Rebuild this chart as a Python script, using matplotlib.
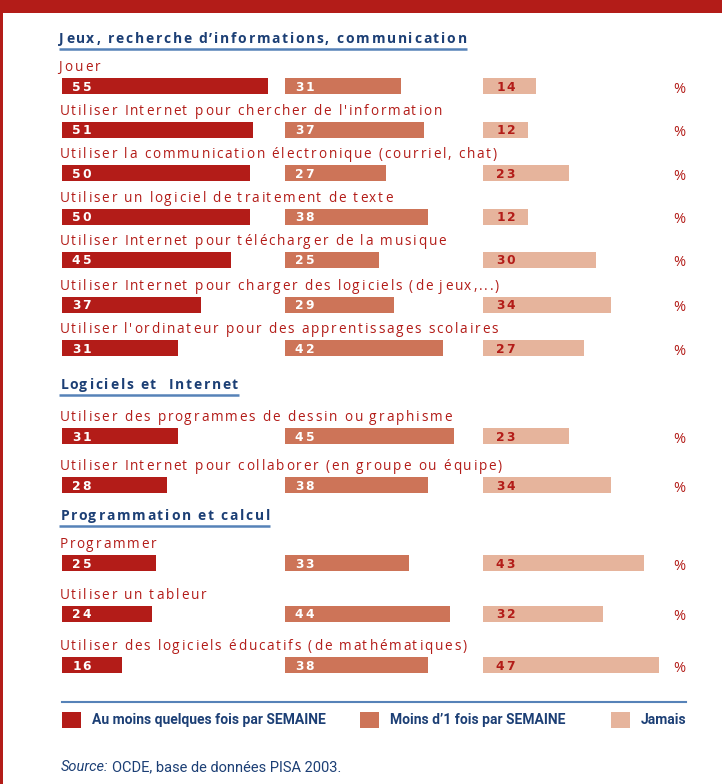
# -*- coding: utf-8 -*-
# Usage de l'ordinateur par les eleves - PISA 2003

import matplotlib
matplotlib.use("Agg")
import matplotlib.pyplot as plt
from matplotlib.font_manager import FontProperties, findfont, get_font

# Donnees
sections = ["Jeux, recherche d\u2019informations, communication",
            "Logiciels et  Internet",
            "Programmation et calcul"]
activites = ["Jouer",
             "Utiliser Internet pour chercher de l'information",
             "Utiliser la communication électronique (courriel, chat)",
             "Utiliser un logiciel de traitement de texte",
             "Utiliser Internet pour télécharger de la musique",
             "Utiliser Internet pour charger des logiciels (de jeux,...)",
             "Utiliser l'ordinateur pour des apprentissages scolaires",
             "Utiliser des programmes de dessin ou graphisme",
             "Utiliser Internet pour collaborer (en groupe ou équipe)",
             "Programmer",
             "Utiliser un tableur",
             "Utiliser des logiciels éducatifs (de mathématiques)"]
semaine = [55, 51, 50, 50, 45, 37, 31, 31, 28, 25, 24, 16]
moins = [31, 37, 27, 38, 25, 29, 42, 45, 38, 33, 44, 38]
jamais = [14, 12, 23, 12, 30, 34, 27, 23, 34, 43, 32, 47]
legende = ["Au moins quelques fois par SEMAINE", "Moins d\u20191 fois par SEMAINE", "Jamais"]

# Mise en page (pixels)
W, H = 722, 784
row_y = [86, 129.5, 173, 216.5, 260, 304.5, 348, 436, 485, 563, 614, 665]
header_y = [43, 389, 520]
col_x = [62, 285, 483]
px_par_pct = 3.75
bar_h = 16

rouge = "#b31c18"
couleurs = ["#b31c18", "#cd7458", "#e6b49c"]
marine = "#1c3f75"
bleu_ligne = "#5682b8"

fig = plt.figure(figsize=(W / 100, H / 100), dpi=100)

# barres : un axe par colonne, en pourcentage
series = [semaine, moins, jamais]
for k, (x0, vals) in enumerate(zip(col_x, series)):
    bx = fig.add_axes([x0 / W, 0, 60 * px_par_pct / W, 1])
    bx.set_xlim(0, 60)
    bx.set_ylim(H, 0)
    bx.axis("off")
    bx.barh(row_y, vals, height=bar_h, left=0, color=couleurs[k], lw=0)

# axe de texte par-dessus, en pixels
ax = fig.add_axes([0, 0, 1, 1])
ax.set_xlim(0, W)
ax.set_ylim(H, 0)
ax.axis("off")
ax.patch.set_alpha(0)
renderer = fig.canvas.get_renderer()

# bandeau et bord
ax.axhspan(0, 13, color=rouge, lw=0)
ax.axvspan(0, 3, color=rouge, lw=0)


def texte_espace(x, y, s, fp, track, color):
    # texte avec interlettrage, caractere par caractere
    font = get_font(findfont(fp))
    for ch in s:
        font.set_size(fp.get_size_in_points(), 100)
        g = font.load_char(ord(ch))
        adv = g.linearHoriAdvance / 65536
        lsb = g.horiBearingX / 64
        if ch != " ":
            ax.text(x + max(lsb, 0), y, ch, fontproperties=fp, color=color,
                    ha="left", va="baseline")
        x += adv + track
    return x - track


fp_titre = FontProperties(family="Open Sans", weight="bold", size=10)
fp_label = FontProperties(family="Open Sans", size=9.8)
fp_num = FontProperties(family="DejaVu Sans", weight="bold", size=8.8)
fp_pct = FontProperties(family="Open Sans", size=10.5)

# titres de section
for s, y in zip(sections, header_y):
    x_fin = texte_espace(59, y, s, fp_titre, 1.75, marine)
    ax.plot([59, x_fin + 1], [y + 6, y + 6], color=bleu_ligne, lw=1.8, solid_capstyle="butt")

# libelles
for lab, y in zip(activites, row_y):
    texte_espace(58.5, y - 15, lab, fp_label, 1.8, rouge)
    ax.text(679, y + 3, "%", fontproperties=fp_pct, color=rouge, ha="center", va="center")

# valeurs dans les barres
for k, (x0, vals) in enumerate(zip(col_x, series)):
    for v, y in zip(vals, row_y):
        x_txt = x0 + (12 if k == 2 else 9)
        texte_espace(x_txt, y + 4.5, str(v), fp_num, 2.0,
                     rouge if k == 2 else "white")

# legende
ax.plot([62, 686], [702, 702], color=bleu_ligne, lw=1.5)
fp_leg = FontProperties(family="Roboto", weight="bold", size=10)
leg_x = [62, 360, 611]
for k, (x, t) in enumerate(zip(leg_x, legende)):
    ax.add_patch(plt.Rectangle((x, 712), 19, 16, color=couleurs[k], lw=0))
    ax.text(x + 30, 720, t, fontproperties=fp_leg, color=marine, ha="left", va="center")

# source
fp_src_i = FontProperties(family="Roboto", style="italic", size=10.5)
fp_src = FontProperties(family="Roboto", size=10.5)
t_src = ax.text(61, 771, "Source:", fontproperties=fp_src_i, color=marine,
                ha="left", va="baseline")
fig.canvas.draw()
x_fin = ax.transData.inverted().transform(t_src.get_window_extent(renderer).p1)[0]
ax.text(x_fin + 4, 771, "OCDE, base de données PISA 2003.", fontproperties=fp_src,
        color=marine, ha="left", va="baseline")

fig.savefig("out.png", dpi=100)
